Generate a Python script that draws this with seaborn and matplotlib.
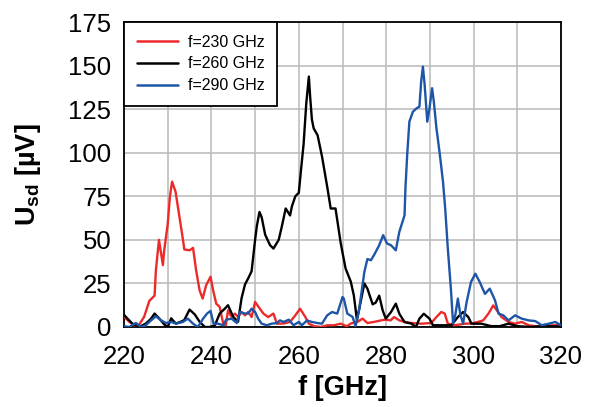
import numpy as np
import pandas as pd
import matplotlib
matplotlib.use("Agg")
import matplotlib.pyplot as plt
from matplotlib.ticker import MultipleLocator
import seaborn as sns

# ---- data ----
freq_230 = [220, 221.2, 222.3, 223.5, 224.6, 225.8, 227, 227.3, 228, 228.5, 228.9, 229.2, 230, 230.5, 231,
            231.8, 232.7, 233.5, 233.8, 235, 235.8, 236.5, 237.3, 238, 238.8, 239.8, 240.4, 241.1, 241.9,
            242.7, 243.3, 243.8, 244.6, 245.4, 246.1, 246.9, 247.7, 248.4, 249.2, 250, 250.8, 251.9, 253,
            254.2, 255, 256.5, 258, 259.2, 260.3, 261.5, 262.3, 263.5, 265, 266.5, 268, 269.6, 271, 271.9,
            273.4, 274.6, 275.7, 277.2, 278.8, 279.9, 281, 281.8, 283, 284.2, 285.7, 288, 290.3, 291.5,
            292.6, 293.4, 294.1, 295.7, 298, 299.5, 301, 302.2, 303.4, 304.5, 305.3, 306.4, 308, 309.5,
            311, 312.6, 314, 315.6, 317, 318.7, 320]
u_230 = [6, 3, 1, 1.5, 5.8, 15, 18, 32.6, 50, 42, 35.5, 44, 59, 74.7, 83.4,
         77.6, 63, 50, 44.5, 44, 45.4, 32.6, 21, 16.3, 24, 28.8, 21, 13.4, 11.5,
         2, 1, 9.6, 5.8, 7.7, 5.8, 8.6, 6.7, 8.6, 5.7, 14.4, 11.5, 7.7, 5.7,
         7.7, 1.9, 2, 2.9, 6.7, 10.5, 5.7, 1.9, 0.5, 0, 1, 1, 1.9, 0.4, 2,
         2.9, 4.8, 2.3, 2.9, 3.8, 4.2, 3.8, 5.7, 3.8, 2.9, 2.3, 1.9, 2.3, 5.7,
         8.6, 7.7, 1.9, 1, 1.9, 2, 2.9, 3.8, 7.7, 12.4, 9.6, 5.7, 2.9, 1.9,
         2.9, 1, 0.5, 0.4, 0.8, 1, 1]

freq_260 = [220, 220.8, 221.9, 223.5, 225, 226.2, 227, 228.1, 229.2, 230, 230.8, 231.5, 231.9, 233, 233.8,
            235, 236.2, 237.3, 238.5, 239.6, 240.8, 241.9, 243.1, 243.8, 245, 246.1, 246.9, 247.7, 248.4,
            249.2, 250, 250.4, 251, 251.5, 252.3, 253.4, 254.2, 255.4, 256.1, 257, 257.5, 258, 258.4,
            259.2, 260, 260.5, 261.1, 261.7, 262.3, 262.6, 263, 263.4, 264.3, 265.3, 266.5, 267.3, 268.4,
            269.6, 270.7, 271.9, 272.6, 273.3, 273.8, 275, 275.7, 276.9, 277.6, 278.4, 279.2, 279.9,
            281.1, 282.2, 283, 284.2, 285.7, 286.8, 287.6, 288.6, 289.9, 290.7, 293, 294.9, 296.4, 297.6,
            298.8, 299.5, 301.8, 304, 306, 308, 310, 313, 316, 320]
u_260 = [7, 4.8, 2, 0, 2, 4.8, 7.7, 4.8, 1.5, 0, 5, 2.9, 2, 3, 4,
         10, 7.2, 3, 0, 0, 1, 7.7, 10.6, 12.5, 5.8, 3, 16.5, 24.5, 27.8,
         32, 50, 58, 66, 63, 53, 47, 45, 50, 57.5, 68, 66, 64, 69,
         75, 77, 90, 105, 128, 143.7, 132, 119, 114, 110, 98, 80.5, 68, 68,
         48, 33.6, 26, 18, 4, 10, 25, 22, 13, 14, 18, 9.5, 4.8,
         8.6, 13.4, 7.6, 2.8, 2, 0, 4.8, 7.6, 4.8, 1, 1, 1, 5.7, 8.6,
         5.7, 1.9, 1.9, 0.5, 0.5, 1.9, 0.5, 0, 0.5, 0.3]

freq_290 = [220, 221.2, 222.7, 223.9, 225, 226.2, 227.3, 228.5, 229.6, 230.8, 231.9, 233.5, 234.6, 235.8,
            236.9, 238.1, 239, 239.8, 240.5, 241.5, 242.7, 243.4, 244.6, 245.8, 246.5, 247.7, 248.4, 249.2,
            250, 250.7, 251.5, 252.7, 253.8, 255, 255.7, 256.5, 257.7, 258.8, 260, 260.7, 261.9, 263,
            264.2, 265.3, 266.5, 267.6, 268.8, 270, 270.3, 271.1, 272.3, 273, 273.8, 275, 275.7, 276.5,
            277.2, 278.4, 279.3, 280.2, 281.1, 282.2, 283, 284.2, 284.4, 284.8, 285.3, 286.1, 286.9,
            287.6, 288, 288.4, 288.8, 289.4, 289.9, 290.5, 290.9, 291.5, 292.2, 293, 293.5, 294.1, 294.8,
            295.3, 295.8, 296.4, 297, 297.6, 298.4, 299.4, 300.4, 301.4, 302.6, 303.7, 304.9, 305.7,
            306.8, 308, 309.5, 311, 312.6, 314.1, 315.6, 317.2, 318.7, 320]
u_290 = [0.5, 0, 2.3, 0, 1, 3.8, 6.1, 3.8, 2.3, 2.9, 1.9, 2.9, 4.8, 1.9,
         0, 4.8, 7.7, 9.2, 1.9, 1.9, 1, 4.2, 4.8, 2.3, 8.6, 7.7, 7.7, 10.5,
         8.6, 4.8, 1.9, 1, 1.9, 2.3, 3.8, 2.9, 4.2, 1, 2.9, 1, 3.8, 2.9,
         2.3, 1.9, 6.7, 8.6, 7.7, 17.2, 16.3, 7.7, 5.8, 0.5, 10, 31.6, 39, 38.3,
         41.2, 46.9, 52.7, 47.9, 46.9, 44, 54.6, 64.1, 79.5, 98.6, 117.8, 123.5, 125.4,
         126.4, 140.8, 149.4, 138.9, 117.8, 125.4, 137, 129.3, 114, 100.5, 83.3, 68, 45, 22,
         2, 6.7, 16.3, 6.7, 2, 14.3, 25.8, 30.6, 25.8, 19, 22, 15.3, 7.7,
         6.7, 3.8, 6.7, 4.8, 3.8, 3.4, 1, 1.9, 2.9, 1]

series_labels = ["f=230 GHz", "f=260 GHz", "f=290 GHz"]
series_colors = ["#ec2a2a", "#000000", "#1f55a6"]
x_ticks = [220, 240, 260, 280, 300, 320]
y_ticks = [0, 25, 50, 75, 100, 125, 150, 175]

frames = []
for lab, fx, uy in zip(series_labels, [freq_230, freq_260, freq_290], [u_230, u_260, u_290]):
    frames.append(pd.DataFrame({"f": fx, "U": uy, "series": lab}))
df = pd.concat(frames, ignore_index=True)

sns.set_theme(style="white")
plt.rcParams["font.family"] = ["Liberation Sans", "DejaVu Sans"]
plt.rcParams["text.color"] = "black"
plt.rcParams["axes.labelcolor"] = "black"
plt.rcParams["xtick.color"] = "black"
plt.rcParams["ytick.color"] = "black"

fig = plt.figure(figsize=(5.92, 4.07), dpi=100)
ax = fig.add_axes([124 / 592, 1 - 327 / 407, (561 - 124) / 592, (327 - 22) / 407])

sns.lineplot(data=df, x="f", y="U", hue="series", hue_order=series_labels,
             palette=dict(zip(series_labels, series_colors)), sort=False,
             estimator=None, linewidth=1.7, ax=ax, zorder=3)

ax.set_xlim(220, 320)
ax.set_ylim(0, 175)
ax.set_xticks(x_ticks)
ax.set_yticks(y_ticks)
ax.xaxis.set_minor_locator(MultipleLocator(10))
ax.grid(True, which="both", color="#bdbdbd", linewidth=1.2, zorder=0)
ax.set_axisbelow(True)
ax.tick_params(axis="both", which="both", length=0, labelsize=18.5, colors="black")
ax.tick_params(axis="x", pad=13)
ax.tick_params(axis="y", pad=9)
for sp in ax.spines.values():
    sp.set_visible(True)
    sp.set_color("black")
    sp.set_linewidth(1.3)

ax.set_xlabel("f [GHz]", fontsize=19.5, fontweight="bold", labelpad=4, color="black")
ax.set_ylabel(r"U$_\mathregular{sd}$ [µV]", fontsize=19.5, fontweight="bold", labelpad=18,
              color="black")

leg = ax.legend(loc="upper left", bbox_to_anchor=(0, 1), borderaxespad=0, fancybox=False,
                frameon=True, edgecolor="black", fontsize=11.5, handlelength=2.6,
                handletextpad=0.6, labelspacing=0.42, borderpad=0.8)
leg.get_frame().set_linewidth(1.3)
leg.get_frame().set_alpha(1)
for line in leg.get_lines():
    line.set_linewidth(1.8)
for t in leg.get_texts():
    t.set_color("black")

fig.savefig("out.png", dpi=100, facecolor="white")
